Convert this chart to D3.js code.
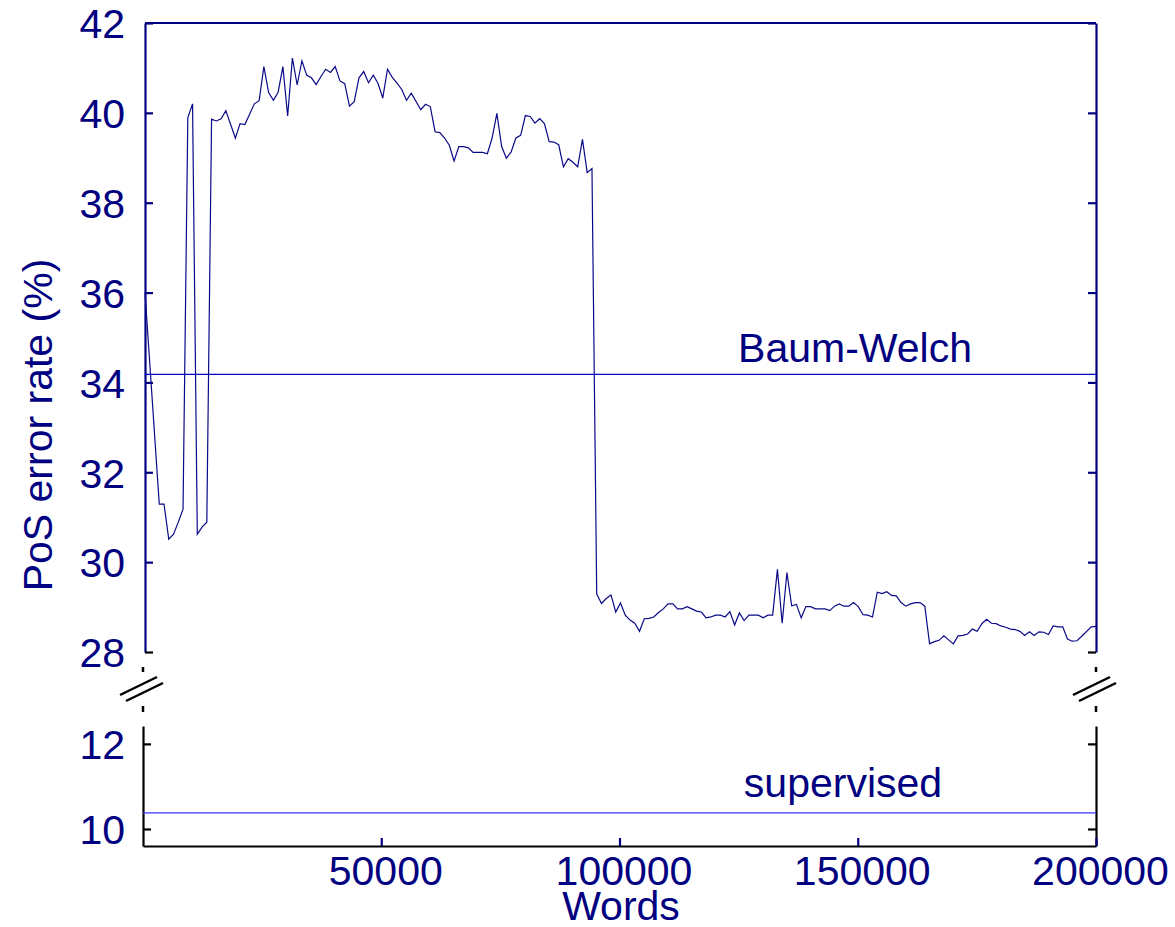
<!DOCTYPE html>
<html>
<head>
<meta charset="utf-8">
<script src="https://cdn.jsdelivr.net/npm/d3@7"></script>
<style>
  body { margin: 0; background: #fff; }
  svg text { font-family: "Liberation Sans", Arial, sans-serif; fill: #000080; }
</style>
</head>
<body>
<div class="chart"></div>
<script>
// words seen (x) and PoS error rate in % (y)
const words = [
  0, 3000, 4000, 5000, 6000, 7000, 8000, 9000, 10000, 11000, 12000, 13000,
  14000, 15000, 16000, 17000, 19000, 20000, 21000, 23000, 24000, 25000, 26000,
  27000, 28000, 29000, 30000, 31000, 32000, 33000, 34000, 35000, 36000, 37000,
  38000, 39000, 40000, 41000, 42000, 43000, 44000, 45000, 46000, 47000, 48000,
  49000, 50000, 51000, 52000, 53000, 54000, 55000, 56000, 58000, 59000, 60000,
  61000, 62000, 63000, 64000, 65000, 66000, 67000, 68000, 69000, 70000, 71000,
  72000, 73000, 74000, 75000, 76000, 77000, 78000, 79000, 80000, 81000, 82000,
  83000, 84000, 85000, 86000, 87000, 88000, 89000, 90000, 91000, 92000, 93000,
  94000, 95000, 96000, 97000, 98000, 99000, 100000, 101000, 102000, 103000,
  104000, 105000, 106000, 107000, 108000, 109000, 110000, 111000, 112000,
  113000, 114000, 115000, 116000, 117000, 118000, 119000, 120000, 121000,
  122000, 123000, 124000, 125000, 126000, 127000, 128000, 129000, 130000,
  131000, 132000, 133000, 134000, 135000, 136000, 137000, 138000, 139000,
  140000, 141000, 142000, 143000, 144000, 145000, 146000, 147000, 148000,
  149000, 150000, 151000, 152000, 153000, 154000, 155000, 156000, 157000,
  158000, 159000, 160000, 161000, 162000, 163000, 164000, 165000, 166000,
  167000, 168000, 169000, 170000, 171000, 172000, 173000, 174000, 175000,
  176000, 177000, 178000, 179000, 180000, 181000, 182000, 183000, 184000,
  185000, 186000, 187000, 188000, 189000, 190000, 191000, 192000, 193000,
  194000, 195000, 196000, 197000, 199000, 200000
];
const errorRate = [
  36.00, 31.29, 31.29, 30.51, 30.62, 30.89, 31.18, 39.89, 40.20, 30.62, 30.78, 30.89,
  39.86, 39.82, 39.87, 40.05, 39.44, 39.76, 39.74, 40.20, 40.27, 41.03, 40.45,
  40.28, 40.46, 41.03, 39.93, 41.22, 40.62, 41.16, 40.84, 40.78, 40.63, 40.81,
  40.97, 40.90, 41.03, 40.71, 40.65, 40.15, 40.25, 40.78, 40.92, 40.67, 40.84,
  40.66, 40.33, 40.97, 40.79, 40.66, 40.52, 40.28, 40.44, 40.07, 40.19, 40.14,
  39.58, 39.56, 39.44, 39.28, 38.93, 39.25, 39.25, 39.22, 39.12, 39.12, 39.12,
  39.09, 39.44, 39.99, 39.25, 38.99, 39.13, 39.44, 39.50, 39.94, 39.92, 39.77,
  39.87, 39.76, 39.36, 39.35, 39.29, 38.80, 38.98, 38.90, 38.80, 39.41, 38.67,
  38.76, 29.29, 29.08, 29.19, 29.27, 28.89, 29.09, 28.82, 28.71, 28.64,
  28.46, 28.74, 28.75, 28.78, 28.88, 28.96, 29.07, 29.07, 28.96,
  28.96, 29.01, 28.96, 28.91, 28.89, 28.76, 28.78, 28.82, 28.82,
  28.78, 28.90, 28.60, 28.87, 28.70, 28.82, 28.82, 28.82, 28.76,
  28.82, 28.82, 29.84, 28.64, 29.77, 29.03, 29.06, 28.76, 29.01,
  29.01, 28.96, 28.96, 28.96, 28.92, 29.02, 29.07, 29.02, 29.02,
  29.10, 29.01, 28.83, 28.82, 28.78, 29.33, 29.30, 29.34, 29.26,
  29.25, 29.10, 29.02, 29.07, 29.10, 29.10, 29.02, 28.18, 28.23,
  28.26, 28.36, 28.27, 28.18, 28.36, 28.37, 28.40, 28.51, 28.46,
  28.63, 28.73, 28.64, 28.63, 28.58, 28.55, 28.51, 28.50, 28.46,
  28.37, 28.45, 28.37, 28.45, 28.44, 28.39, 28.58, 28.56, 28.56,
  28.29, 28.24, 28.25, 28.35, 28.56, 28.57
];
const baumWelchRate = 34.18;
const supervisedRate = 10.38;
const upperTicks = [28, 30, 32, 34, 36, 38, 40, 42];
const lowerTicks = [10, 12];
const xTicks = [50000, 100000, 150000, 200000];

const navy = '#000080';
const fontSize = 41;

const svg = d3.select('.chart').append('svg')
  .attr('width', 1175)
  .attr('height', 927);

// upper panel sits a hair to the right of the lower one, like the original
const xTop = d3.scaleLinear().domain([0, 200000]).range([145, 1096]);
const xBot = d3.scaleLinear().domain([0, 200000]).range([143, 1096]);
const yTop = d3.scaleLinear().domain([28, 42]).range([652, 23]);
const yBot = d3.scaleLinear().domain([9.6, 12.42]).range([846, 726]);

function styleAxis(g, tickColor, domainColor) {
  g.attr('font-size', null).attr('font-family', null);
  g.select('.domain').attr('stroke', domainColor).attr('stroke-width', 2.2);
  g.selectAll('.tick line').attr('stroke', tickColor).attr('stroke-width', 2.2);
  g.selectAll('.tick text').attr('fill', navy).style('font-size', fontSize + 'px');
}

// ----- upper panel -----
const leftTop = svg.append('g')
  .attr('transform', `translate(${xTop.range()[0]},0)`)
  .call(d3.axisLeft(yTop).tickValues(upperTicks).tickSizeInner(-8).tickSizeOuter(0).tickPadding(20))
  .call(g => styleAxis(g, navy, navy));
leftTop.selectAll('.tick text').attr('dy', '0.36em');
leftTop.selectAll('.tick').filter(d => d === 28).select('line').attr('stroke', '#000');

const rightTop = svg.append('g')
  .attr('transform', `translate(${xTop.range()[1]},0)`)
  .call(d3.axisRight(yTop).tickValues(upperTicks).tickSizeInner(-8).tickSizeOuter(0).tickFormat(''))
  .call(g => styleAxis(g, navy, navy));
rightTop.selectAll('.tick').filter(d => d === 28).select('line').attr('stroke', '#000');

svg.append('line')
  .attr('x1', xTop.range()[0]).attr('x2', xTop.range()[1])
  .attr('y1', yTop(42)).attr('y2', yTop(42))
  .attr('stroke', navy).attr('stroke-width', 2.2);

svg.append('line')
  .attr('x1', xTop(0)).attr('x2', xTop(200000))
  .attr('y1', yTop(baumWelchRate)).attr('y2', yTop(baumWelchRate))
  .attr('stroke', '#0000d8').attr('stroke-width', 1.3);

svg.append('text')
  .attr('x', 855).attr('y', yTop(baumWelchRate) - 12)
  .attr('text-anchor', 'middle')
  .style('font-size', fontSize + 'px')
  .text('Baum-Welch');

const points = words.map((w, i) => [w, errorRate[i]]);
svg.append('path')
  .datum(points)
  .attr('fill', 'none')
  .attr('stroke', '#0a0a88')
  .attr('stroke-width', 1.2)
  .attr('stroke-linejoin', 'miter')
  .attr('d', d3.line().x(d => xTop(d[0])).y(d => yTop(d[1])));

// ----- lower panel -----
svg.append('g')
  .attr('transform', `translate(${xBot.range()[0]},0)`)
  .call(d3.axisLeft(yBot).tickValues(lowerTicks).tickSizeInner(-8).tickSizeOuter(0).tickPadding(18).tickFormat(d3.format('d')))
  .call(g => styleAxis(g, '#000', '#000'))
  .selectAll('.tick text').attr('dy', '0.36em');

svg.append('g')
  .attr('transform', `translate(${xBot.range()[1]},0)`)
  .call(d3.axisRight(yBot).tickValues(lowerTicks).tickSizeInner(-8).tickSizeOuter(0).tickFormat(''))
  .call(g => styleAxis(g, '#000', '#000'));

svg.append('g')
  .attr('transform', `translate(0,${yBot.range()[0]})`)
  .call(d3.axisBottom(xBot).tickValues(xTicks).tickSizeInner(-8).tickSizeOuter(0).tickPadding(10).tickFormat(d3.format('d')))
  .call(g => styleAxis(g, navy, '#000'))
  .selectAll('.tick text').attr('dx', 4);

svg.append('line')
  .attr('x1', xBot(0)).attr('x2', xBot(200000))
  .attr('y1', yBot(supervisedRate)).attr('y2', yBot(supervisedRate))
  .attr('stroke', '#3535ff').attr('stroke-width', 1.3);

svg.append('text')
  .attr('x', 843).attr('y', yBot(supervisedRate) - 16)
  .attr('text-anchor', 'middle')
  .style('font-size', fontSize + 'px')
  .text('supervised');

// ----- axis break marks -----
const breakG = svg.append('g').attr('stroke', '#000').attr('stroke-width', 2.5);
[xBot.range()[0], xBot.range()[1]].forEach(x => {
  [[667, 672], [706, 712]].forEach(([a, b]) => {
    breakG.append('line').attr('x1', x).attr('x2', x).attr('y1', a).attr('y2', b);
  });
  [0, 6].forEach(off => {
    breakG.append('line')
      .attr('x1', x - 23 + off).attr('y1', 695 + off)
      .attr('x2', x + 14 + off).attr('y2', 677 + off);
  });
});

// ----- titles -----
svg.append('text')
  .attr('x', 621).attr('y', 920)
  .attr('text-anchor', 'middle')
  .style('font-size', fontSize + 'px')
  .text('Words');

svg.append('text')
  .attr('transform', 'translate(52,425) rotate(-90)')
  .attr('text-anchor', 'middle')
  .style('font-size', fontSize + 'px')
  .text('PoS error rate (%)');
</script>
</body>
</html>
